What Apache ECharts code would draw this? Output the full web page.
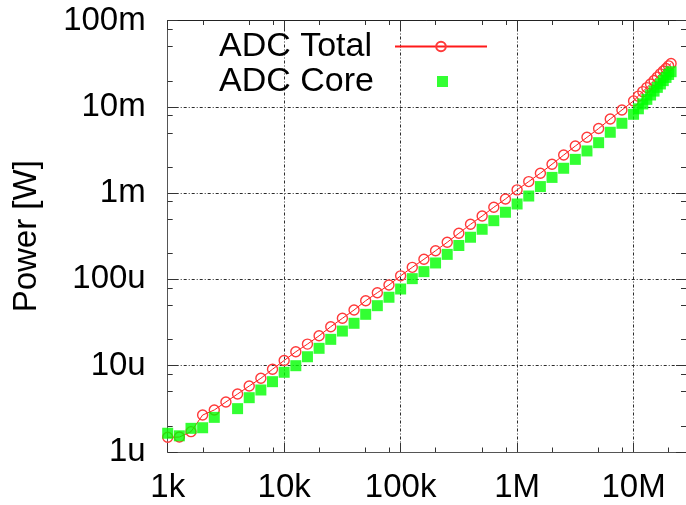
<!DOCTYPE html>
<html>
<head>
<meta charset="utf-8">
<script src="https://cdn.jsdelivr.net/npm/echarts@6/dist/echarts.min.js"></script>
<style>html,body{margin:0;padding:0;background:#fff}#c{width:686px;height:505px}</style>
</head>
<body>
<div id="c"></div>
<script>
// ---- data ----
const freq = [1000,1259,1585,1995,2512,3162,3981,5012,6310,7943,
  10000,12590,15850,19950,25120,31620,39810,50120,63100,79430,
  100000,125900,158500,199500,251200,316200,398100,501200,631000,794300,
  1000000,1259000,1585000,1995000,2512000,3162000,3981000,5012000,6310000,7943000,
  10000000,11000000,12000000,13000000,14000000,15000000,16000000,17000000,18000000,19000000,20000000,21000000];
const totalPower = [1.48e-6,1.49e-6,1.72e-6,2.68e-6,3.07e-6,3.80e-6,4.70e-6,5.82e-6,7.15e-6,9.1e-6,
  11.5e-6,14.5e-6,17.8e-6,22.2e-6,28.3e-6,35.4e-6,44.2e-6,56.6e-6,70.1e-6,86.1e-6,
  110e-6,138e-6,171e-6,215e-6,269e-6,342e-6,435e-6,543e-6,685e-6,855e-6,
  1.09e-3,1.36e-3,1.70e-3,2.16e-3,2.76e-3,3.51e-3,4.43e-3,5.6e-3,7.23e-3,9.18e-3,
  11.7e-3,13.3e-3,15.0e-3,16.7e-3,18.4e-3,20.2e-3,22.1e-3,24.1e-3,26.0e-3,27.8e-3,29.8e-3,31.8e-3];
const corePower = [1.65e-6,1.54e-6,1.88e-6,1.91e-6,2.52e-6,null,3.18e-6,4.26e-6,5.23e-6,6.53e-6,
  8.39e-6,10.0e-6,12.7e-6,15.9e-6,20.2e-6,25.2e-6,31.0e-6,39.4e-6,49.6e-6,62.1e-6,
  77.4e-6,102e-6,123e-6,155e-6,195e-6,247e-6,308e-6,381e-6,479e-6,600e-6,
  748e-6,925e-6,1.19e-3,1.52e-3,1.94e-3,2.46e-3,3.08e-3,3.84e-3,5.07e-3,6.44e-3,
  8.19e-3,9.48e-3,10.8e-3,12.2e-3,13.7e-3,15.2e-3,16.8e-3,18.4e-3,20.1e-3,21.9e-3,23.7e-3,25.5e-3];
const seriesNames = ['ADC Total','ADC Core'];
const xTickValues = [1e3,1e4,1e5,1e6,1e7];
const xTickLabels = ['1k','10k','100k','1M','10M'];
const xMinorValues = [2e3,5e3,8e3,2e4,5e4,8e4,2e5,5e5,8e5,2e6,5e6,8e6,2e7];
const yTickValues = [1e-6,1e-5,1e-4,1e-3,1e-2,1e-1];
const yTickLabels = ['1u','10u','100u','1m','10m','100m'];
const yMinorValues = [2e-6,5e-6,8e-6,2e-5,5e-5,8e-5,2e-4,5e-4,8e-4,2e-3,5e-3,8e-3,2e-2,5e-2,8e-2];
const yAxisTitle = 'Power [W]';

// ---- chart ----
const X_MIN = 1e3, X_MAX = 2.82e7, Y_MIN = 1e-6, Y_MAX = 1e-1;
const FONT = 'Liberation Sans';
function labelFor(v, vals, labs) {
  for (let i = 0; i < vals.length; i++) {
    if (Math.abs(Math.log10(v) - Math.log10(vals[i])) < 1e-6) return labs[i];
  }
  return '';
}
const totalData = freq.map((f, i) => [f, totalPower[i]]);
const coreData = freq.map((f, i) => corePower[i] == null ? null : [f, corePower[i]]).filter(d => d);

function mkX(pos, vals, len, opts) {
  return Object.assign({
    type: 'log', logBase: 10, min: X_MIN, max: X_MAX, position: pos, gridIndex: 0,
    axisLine: { show: true, lineStyle: { color: '#555', width: 1 } },
    axisTick: { show: true, inside: true, length: len, customValues: vals, lineStyle: { color: '#333', width: 1 } },
    axisLabel: { show: false },
    splitLine: { show: false },
    minorTick: { show: false }, minorSplitLine: { show: false }
  }, opts || {});
}
function mkY(pos, vals, len, opts) {
  return Object.assign({
    type: 'log', logBase: 10, min: Y_MIN, max: Y_MAX, position: pos, gridIndex: 0,
    axisLine: { show: true, lineStyle: { color: '#555', width: 1 } },
    axisTick: { show: true, inside: true, length: len, customValues: vals, lineStyle: { color: '#333', width: 1 } },
    axisLabel: { show: false },
    splitLine: { show: false },
    minorTick: { show: false }, minorSplitLine: { show: false }
  }, opts || {});
}
const gridLine = { show: true, lineStyle: { color: '#2a2a2a', width: 1, type: [3, 2, 1, 2] } };

const option = {
  animation: false,
  backgroundColor: '#fff',
  grid: { left: 167.7, top: 20.5, right: -2, bottom: 53, containLabel: false },
  xAxis: [
    mkX('bottom', xTickValues, 9, {
      axisLabel: { show: true, customValues: xTickValues, margin: 19, color: '#000',
        fontFamily: FONT, fontSize: 33, formatter: v => labelFor(v, xTickValues, xTickLabels) },
      splitLine: gridLine
    }),
    mkX('bottom', xMinorValues, 4.5, { axisLine: { show: false } }),
    mkX('top', xTickValues, 9, { axisLine: { show: true, lineStyle: { color: '#222', width: 1 } } }),
    mkX('top', xMinorValues, 4.5, { axisLine: { show: false } })
  ],
  yAxis: [
    mkY('left', yTickValues, 10, {
      name: yAxisTitle, nameLocation: 'middle', nameGap: 124, nameRotate: 90,
      nameTextStyle: { fontFamily: FONT, fontSize: 33, color: '#000' },
      axisLabel: { show: true, customValues: yTickValues, margin: 22, color: '#000',
        fontFamily: FONT, fontSize: 33, formatter: v => labelFor(v, yTickValues, yTickLabels) },
      splitLine: gridLine
    }),
    mkY('left', yMinorValues, 5, { axisLine: { show: false } }),
    mkY('right', yTickValues, 10, { axisLine: { show: true, lineStyle: { color: '#222', width: 1 } } }),
    mkY('right', yMinorValues, 5, { axisLine: { show: false } })
  ],
  legend: [
    { data: [seriesNames[0]], orient: 'vertical', align: 'right', right: 198, top: 29.5, padding: 0,
      itemWidth: 92, itemHeight: 12, selectedMode: false,
      textStyle: { fontFamily: FONT, fontSize: 34, color: '#000', padding: [0, 18, 0, 0] } },
    { data: [{ name: seriesNames[1], icon: 'rect' }], orient: 'vertical', align: 'right', right: 238, top: 64.5, padding: 0,
      itemWidth: 11, itemHeight: 11, selectedMode: false,
      textStyle: { fontFamily: FONT, fontSize: 34, color: '#000', padding: [0, 58, 0, 0] } }
  ],
  series: [
    { name: seriesNames[0], type: 'line', xAxisIndex: 0, yAxisIndex: 0, data: totalData,
      symbol: 'circle', symbolSize: 10, showSymbol: true, showAllSymbol: true,
      itemStyle: { color: 'rgba(255,255,255,0)', borderColor: '#ff3a3a', borderWidth: 1.4 },
      lineStyle: { color: '#ff1a1a', width: 1 },
      emphasis: { disabled: true }, z: 2 },
    { name: seriesNames[1], type: 'scatter', xAxisIndex: 0, yAxisIndex: 0, data: coreData,
      symbol: 'rect', symbolSize: 11,
      itemStyle: { color: '#00ff00' },
      emphasis: { disabled: true }, z: 3 }
  ]
};
const chart = echarts.init(document.getElementById('c'), null, { renderer: 'canvas' });
chart.setOption(option);
</script>
</body>
</html>
